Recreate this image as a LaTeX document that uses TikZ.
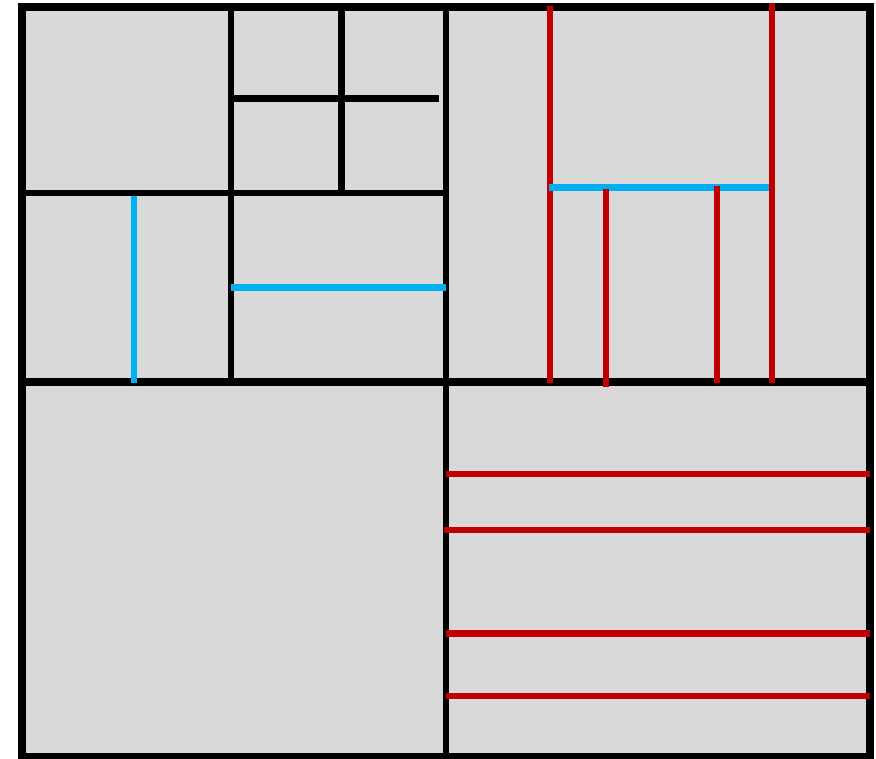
\documentclass[tikz,border=0pt]{standalone}
\usepackage{tikz}
\usetikzlibrary{calc}
\definecolor{wallfill}{HTML}{D9D9D9}
\definecolor{cutred}{HTML}{C00000}
\definecolor{cutblue}{HTML}{00B0F0}

\begin{document}
\begin{tikzpicture}[x=0.02cm, y=-0.02cm,
    outer/.style={draw=black, line width=4.6pt, fill=wallfill},
    wall/.style={draw=black, line width=3.7pt},
    redcut/.style={draw=cutred, line width=3.7pt},
    bluecut/.style={draw=cutblue, line width=3.9pt}]
            \useasboundingbox (0,0) rectangle (876,758);
            % frame and corners
            \coordinate (tl) at (22,7);
            \coordinate (br) at (870,757);
            \coordinate (mid) at (446,382);
            \draw[outer] (tl) rectangle (br);
            \draw[wall] (mid |- tl) -- (mid |- br);
            \draw[wall, line width=4.8pt] (tl |- mid) -- (br |- mid);
            % top left quarter
            \draw[wall] (231,7) -- (231,382);
            \draw[wall] (22,193) -- (446,193);
            \draw[wall] (341.5,7) -- (341.5,193);
            \draw[wall] (231,98.5) -- (439,98.5);
            \draw[bluecut] (134,196) -- (134,383);
            \draw[bluecut] (231,287.5) -- (446,287.5);
            % top right quarter
            \draw[redcut] (550,6) -- (550,383);
            \draw[bluecut] (549,187.5) -- (773,187.5);
            \draw[redcut] (772,3) -- (772,383);
            \draw[redcut] (606,189) -- (606,387);
            \draw[redcut] (717,186) -- (717,383);
            % bottom right quarter
            \foreach \y/\xs in {474/446, 530/444, 633.5/446, 696/446}
                \draw[redcut] (\xs,\y) -- (870,\y);
        \end{tikzpicture}
\end{document}
